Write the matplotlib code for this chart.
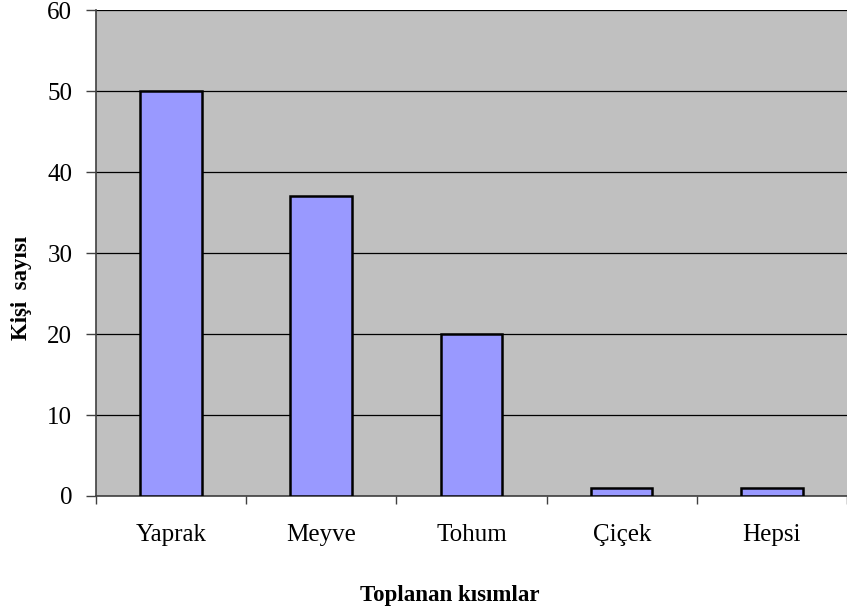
import numpy as np
import matplotlib.pyplot as plt

categories = ['Yaprak', 'Meyve', 'Tohum', 'Çiçek', 'Hepsi']
counts = [50, 37, 20, 1, 1]

plt.rcParams['font.family'] = ['Liberation Serif', 'DejaVu Serif']

fig = plt.figure(figsize=(8.47, 6.15), dpi=100)
ax = fig.add_axes([0.1133, 0.1935, 0.8867, 0.7902])
ax.set_facecolor('#C0C0C0')

x = np.arange(len(categories)) + 0.5
ax.bar(x, counts, width=0.41, color='#9999FF', edgecolor='black', linewidth=1.8, zorder=3)

ax.set_xlim(0, len(categories))
ax.set_ylim(0, 60)
ax.set_yticks(np.arange(0, 61, 10))
ax.yaxis.grid(True, color='black', linewidth=0.9, zorder=1)

ax.set_xticks(x)
ax.set_xticklabels(categories, fontsize=18)
ax.set_xticks(np.arange(0, len(categories) + 1), minor=True)
ax.tick_params(axis='x', which='major', length=0, pad=20)
ax.tick_params(axis='x', which='minor', length=6, width=1, color='#404040', direction='out')
ax.tick_params(axis='y', length=7, width=1, color='#404040', labelsize=18, pad=10)

for s in ['top', 'right']:
    ax.spines[s].set_visible(False)
for s in ['left', 'bottom']:
    ax.spines[s].set_color('#404040')
    ax.spines[s].set_linewidth(1.2)

# axis titles placed by hand, as in the original
fig.text(21 / 847, 1 - 288 / 615, 'Kişi  sayısı', fontsize=16.5, fontweight='bold',
         rotation=90, ha='center', va='center')
fig.text(450 / 847, 1 - 596 / 615, 'Toplanan kısımlar', fontsize=16.5, fontweight='bold',
         ha='center', va='center')

fig.savefig('out.png', dpi=100)
